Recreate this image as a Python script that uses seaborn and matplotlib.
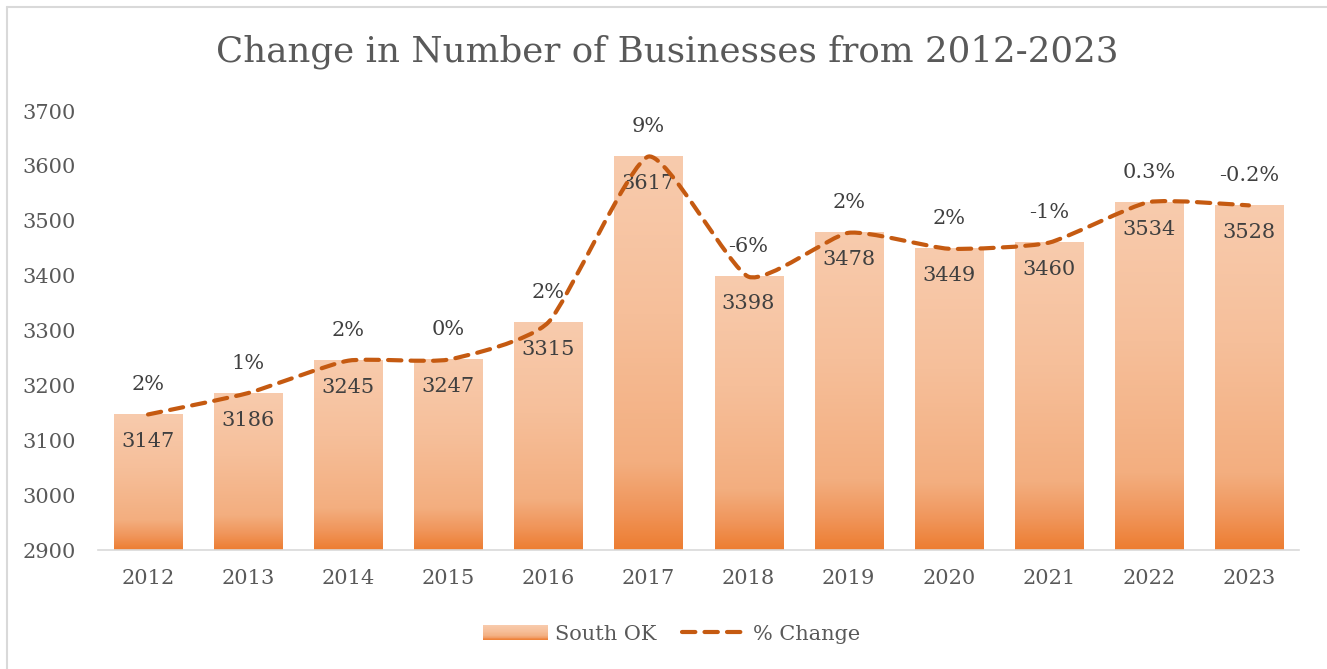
import numpy as np
import pandas as pd
import matplotlib
matplotlib.use("Agg")
import matplotlib.pyplot as plt
import seaborn as sns
from matplotlib.path import Path
from matplotlib.patches import PathPatch, Rectangle, Patch
from matplotlib.colors import LinearSegmentedColormap
from matplotlib.lines import Line2D
from matplotlib.legend_handler import HandlerBase

# Data
years = [2012, 2013, 2014, 2015, 2016, 2017, 2018, 2019, 2020, 2021, 2022, 2023]
businesses = [3147, 3186, 3245, 3247, 3315, 3617, 3398, 3478, 3449, 3460, 3534, 3528]
pct_labels = ["2%", "1%", "2%", "0%", "2%", "9%", "-6%", "2%", "2%", "-1%", "0.3%", "-0.2%"]
y_ticks = [2900, 3000, 3100, 3200, 3300, 3400, 3500, 3600, 3700]

TEXT_GRAY = "#595959"
LABEL_DARK = "#404040"
LINE_COLOR = "#C55A11"
GRID_GRAY = "#D9D9D9"
FS = 15

sns.set_theme(style="white")
plt.rcParams["font.family"] = ["DejaVu Serif"]

# vertical gradient used to fill each bar (bottom -> top)
bar_cmap = LinearSegmentedColormap.from_list(
    "peach",
    [(0.0, "#ED7D31"), (0.10, "#F0955A"), (0.22, "#F3AE7F"),
     (0.6, "#F6BF9A"), (1.0, "#F8CBAD")],
)

W, H = 1327, 669
fig = plt.figure(figsize=(W / 100, H / 100), dpi=100)
ax = fig.add_axes([98 / W, 1 - 550 / H, 1201 / W, 439 / H])

df = pd.DataFrame({"Year": [str(y) for y in years], "Businesses": businesses})
sns.barplot(data=df, x="Year", y="Businesses", ax=ax, width=0.68,
            color="white", edgecolor="none", errorbar=None)

ymin, ymax = y_ticks[0], y_ticks[-1]
ax.set_ylim(ymin, ymax)
xlim = (-0.5, len(years) - 0.5)

grad = np.linspace(0, 1, 256).reshape(-1, 1)
for p in ax.patches:
    x0, w, top = p.get_x(), p.get_width(), p.get_height()
    p.set_alpha(0)
    ax.imshow(grad, cmap=bar_cmap, origin="lower", aspect="auto",
              extent=[x0, x0 + w, ymin, top], zorder=2, interpolation="bicubic")
ax.set_xlim(*xlim)
ax.set_ylim(ymin, ymax)

# smoothed dashed line through the bar tops (cubic Bezier, moderate tension)
tension = 0.55
pts = np.column_stack([np.arange(len(businesses)), businesses]).astype(float)
ext = np.vstack([pts[0], pts, pts[-1]])
verts = [tuple(pts[0])]
codes = [Path.MOVETO]
for i in range(len(pts) - 1):
    p0, p1, p2, p3 = ext[i], ext[i + 1], ext[i + 2], ext[i + 3]
    c1 = p1 + tension * (p2 - p0) / 6.0
    c2 = p2 - tension * (p3 - p1) / 6.0
    verts += [tuple(c1), tuple(c2), tuple(p2)]
    codes += [Path.CURVE4] * 3
line_patch = PathPatch(Path(verts, codes), fill=False, edgecolor=LINE_COLOR,
                       lw=3, linestyle=(0, (3.2, 2.2)), capstyle="round", zorder=5)
ax.add_patch(line_patch)

# value and percent labels
for i, (v, pct) in enumerate(zip(businesses, pct_labels)):
    ax.annotate(f"{v}", (i, v), xytext=(0, -27 * 0.72), textcoords="offset points",
                ha="center", va="center", fontsize=FS, color=LABEL_DARK, zorder=4)
    ax.annotate(pct, (i, v), xytext=(0, 30 * 0.72), textcoords="offset points",
                ha="center", va="center", fontsize=FS, color=LABEL_DARK, zorder=4)

ax.set_yticks(y_ticks)
ax.set_xlabel("")
ax.set_ylabel("")
ax.tick_params(axis="y", length=0, pad=16, labelsize=FS, labelcolor=TEXT_GRAY)
ax.tick_params(axis="x", length=0, pad=14, labelsize=FS, labelcolor=TEXT_GRAY)
for side in ["left", "right", "top"]:
    ax.spines[side].set_visible(False)
ax.spines["bottom"].set_color(GRID_GRAY)
ax.spines["bottom"].set_linewidth(1.2)
ax.grid(False)

fig.text(667 / W, 1 - 52 / H, "Change in Number of Businesses from 2012-2023",
         ha="center", va="center", fontsize=25.7, color=TEXT_GRAY)

# chart frame
fig.add_artist(Line2D([7 / W, 7 / W], [0, 1 - 7 / H], color=GRID_GRAY, lw=1.5,
                      transform=fig.transFigure))
fig.add_artist(Line2D([7 / W, 1], [1 - 7 / H, 1 - 7 / H], color=GRID_GRAY, lw=1.5,
                      transform=fig.transFigure))


class GradientHandler(HandlerBase):
    def create_artists(self, legend, orig_handle, xdescent, ydescent,
                       width, height, fontsize, trans):
        n = 24
        arts = []
        for k in range(n):
            r = Rectangle((-xdescent, -ydescent + height * k / n), width, height / n + 0.3,
                          facecolor=bar_cmap((k + 0.5) / n), edgecolor="none",
                          transform=trans)
            arts.append(r)
        return arts


bar_handle = Patch(label="South OK")
line_handle = Line2D([], [], color=LINE_COLOR, lw=3, linestyle=(0, (3.2, 2.2)),
                     dash_capstyle="round", label="% Change")
fig.legend(handles=[bar_handle, line_handle], handler_map={bar_handle: GradientHandler()},
           loc="center", bbox_to_anchor=(672 / W, 1 - 634 / H), ncol=2, frameon=False,
           fontsize=FS, labelcolor=TEXT_GRAY, handlelength=3.1, handletextpad=0.35,
           columnspacing=1.2)

fig.savefig("out.png", dpi=100)
